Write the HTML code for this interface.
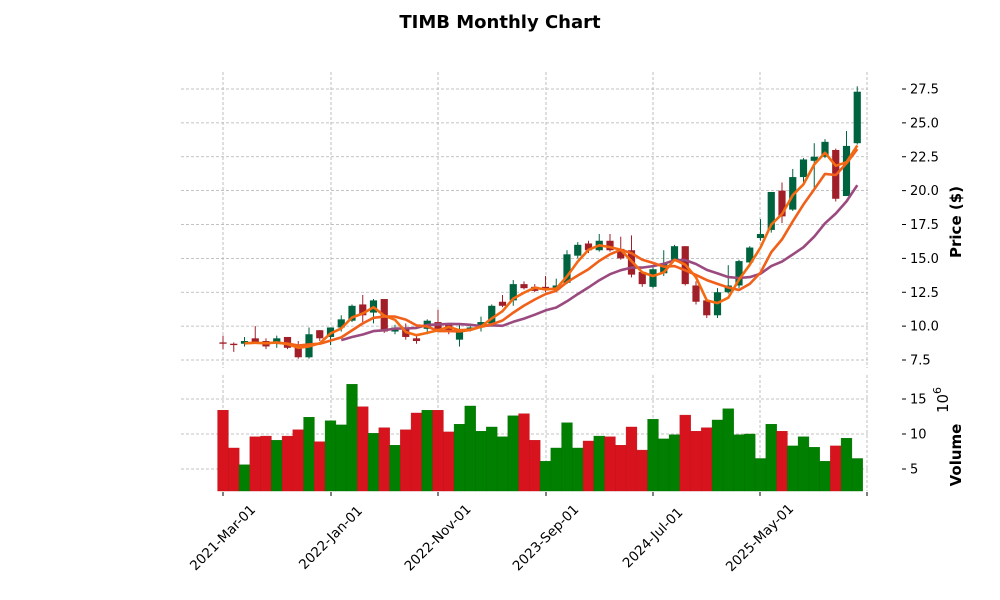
<!DOCTYPE html>
<html><head><meta charset="utf-8"><style>
html,body{margin:0;padding:0;background:#fff;}
svg{display:block;font-family:"DejaVu Sans","Liberation Sans",sans-serif;}
</style></head><body>
<svg id="s" width="1000" height="600" viewBox="0 0 1000 600" xmlns="http://www.w3.org/2000/svg">
<text x="500" y="28" text-anchor="middle" font-size="18" font-weight="bold">TIMB Monthly Chart</text>
<g id="g"></g>
<text transform="translate(961,222) rotate(-90)" text-anchor="middle" font-size="15" font-weight="bold">Price ($)</text>
<text transform="translate(961,455) rotate(-90)" text-anchor="middle" font-size="15" font-weight="bold">Volume</text>
<text transform="translate(948,400) rotate(-90)" text-anchor="middle" font-size="15">10<tspan dy="-7" font-size="11">6</tspan></text>
</svg>
<script>
var d=[[8.8,8.7,9.3,8.3],[8.7,8.6,8.8,8.1],[8.7,8.9,9.2,8.5],[9.1,8.8,10.0,8.7],[8.9,8.5,9.1,8.3],[8.7,9.1,9.3,8.4],[9.2,8.4,9.2,8.3],[8.6,7.7,8.9,7.6],[7.7,9.4,9.9,7.6],[9.7,9.1,9.7,8.9],
[9.2,9.9,9.9,8.6],[9.9,10.5,10.8,9.6],[10.4,11.5,11.6,10.3],[11.6,10.8,12.3,10.3],[11.0,11.9,12.0,10.2],[12.0,9.6,12.0,9.5],[9.6,9.9,10.1,9.4],[9.8,9.2,10.2,9.0],[9.1,8.9,9.3,8.7],[9.8,10.4,10.5,9.4],
[10.3,9.8,11.2,9.8],[10.1,9.6,10.2,9.4],[9.0,9.7,10.1,8.5],[9.8,9.9,10.1,9.6],[9.9,10.3,10.7,9.6],[10.2,11.5,11.6,10.0],[11.8,11.5,12.3,11.4],[11.9,13.1,13.4,11.5],[13.1,12.8,13.3,12.7],[12.9,12.6,13.1,12.5],
[12.9,12.7,13.7,12.5],[12.7,13.0,13.5,12.5],[13.2,15.3,15.6,13.1],[15.2,16.0,16.2,15.0],[16.1,15.6,16.3,15.4],[15.6,16.3,16.8,15.5],[16.3,15.6,16.8,15.5],[15.7,15.0,16.6,14.9],[15.6,13.8,16.7,13.6],[14.0,13.1,14.0,12.9],
[12.9,14.2,14.4,12.8],[13.9,14.6,15.6,13.7],[14.9,15.9,16.0,14.8],[15.9,13.1,15.9,13.0],[13.0,11.8,13.3,11.6],[11.9,10.8,12.0,10.6],[10.8,12.5,12.8,10.6],[12.5,13.0,14.5,12.4],[13.0,14.8,14.9,12.8],[14.7,15.8,15.9,14.6],
[16.5,16.8,17.9,16.3],[17.1,19.9,19.9,16.9],[20.0,18.1,20.6,17.6],[18.6,21.0,21.6,18.5],[21.0,22.3,22.4,20.5],[22.2,22.5,23.5,20.2],[22.5,23.6,23.8,22.4],[23.0,19.4,23.1,19.2],[19.6,23.3,24.4,19.6],[23.5,27.3,27.7,23.4]];
var v=[13.4,8,5.6,9.6,9.7,9.1,9.7,10.6,12.4,8.9,11.9,11.3,17.1,13.9,10.1,10.9,8.4,10.6,13,13.4,13.4,10.3,11.4,14,10.4,11,9.6,12.6,12.9,9.1,6.1,8,11.6,8,9,9.7,9.6,8.4,11,7.7,12.1,9.3,9.9,12.7,10.4,10.9,12,13.6,9.9,10,6.5,11.4,10.4,8.3,9.6,8.1,6.1,8.3,9.4,6.5];
var vc="rrgrrgrrgrgggrgrgrrgrrgggggg rrggggrgrrrrgggrrrggggggrggggrgg".replace(/ /g,'');
var h='';
function X(i){return 223+i*10.75;}
function Y(p){return 360-(p-7.5)*13.55;}
function V(x){return 469-(x-5)*7;}
var gx=[223,331,438,546,653,760,867];
gx.forEach(function(x){h+='<line x1="'+x+'" y1="72" x2="'+x+'" y2="368" stroke="#b0b0b0" stroke-width="0.8" stroke-dasharray="3,2"/>';
h+='<line x1="'+x+'" y1="375" x2="'+x+'" y2="491" stroke="#b0b0b0" stroke-width="0.8" stroke-dasharray="3,2"/>';
h+='<line x1="'+x+'" y1="492" x2="'+x+'" y2="496" stroke="#000" stroke-width="1"/>';});
for(var p=7.5;p<=27.6;p+=2.5){var y=Y(p);h+='<line x1="181" y1="'+y+'" x2="868" y2="'+y+'" stroke="#b0b0b0" stroke-width="0.8" stroke-dasharray="3,2"/>';
h+='<line x1="902" y1="'+y+'" x2="906" y2="'+y+'" stroke="#000"/><text x="910" y="'+(y+4.5)+'" font-size="13">'+p.toFixed(1)+'</text>';}
[5,10,15].forEach(function(q){var y=V(q);h+='<line x1="181" y1="'+y+'" x2="868" y2="'+y+'" stroke="#b0b0b0" stroke-width="0.8" stroke-dasharray="3,2"/>';
h+='<line x1="902" y1="'+y+'" x2="906" y2="'+y+'" stroke="#000"/><text x="910" y="'+(y+4.5)+'" font-size="13">'+q+'</text>';});
var labs=['2021-Mar-01','2022-Jan-01','2022-Nov-01','2023-Sep-01','2024-Jul-01','2025-May-01'];
labs.forEach(function(t,i){var x=gx[i];h+='<text transform="translate('+x+',538) rotate(-45)" text-anchor="middle" font-size="13.5" dy="4">'+t+'</text>';});
for(var i=0;i<60;i++){var x=X(i),y=V(v[i]);h+='<rect x="'+(x-5.4)+'" y="'+y+'" width="10.8" height="'+(491-y)+'" fill="'+(vc[i]=='g'?'#007f00':'#d7141e')+'" stroke="'+(vc[i]=='g'?'#007000':'#c01018')+'" stroke-width="0.4"/>';}
for(var i=0;i<60;i++){var c=d[i],x=X(i),up=c[1]>=c[0],col=up?'#006340':'#a01f28';
h+='<line x1="'+x+'" y1="'+Y(c[2])+'" x2="'+x+'" y2="'+Y(c[3])+'" stroke="'+col+'" stroke-width="1"/>';
var t=Y(Math.max(c[0],c[1])),b=Y(Math.min(c[0],c[1]));h+='<rect x="'+(x-3.6)+'" y="'+t+'" width="7.2" height="'+Math.max(b-t,1.2)+'" fill="'+col+'"/>';}
function ma(n,col){var pts=[];for(var i=n-1;i<60;i++){var s=0;for(var k=0;k<n;k++)s+=d[i-k][1];pts.push(X(i).toFixed(1)+','+Y(s/n).toFixed(1));}
h+='<polyline points="'+pts.join(' ')+'" fill="none" stroke="'+col+'" stroke-width="2.6" stroke-linejoin="round"/>';}
ma(12,'#9a4a7e');ma(6,'#f0601a');ma(3,'#f46a12');
document.getElementById('g').innerHTML=h;
</script>
</body></html>
